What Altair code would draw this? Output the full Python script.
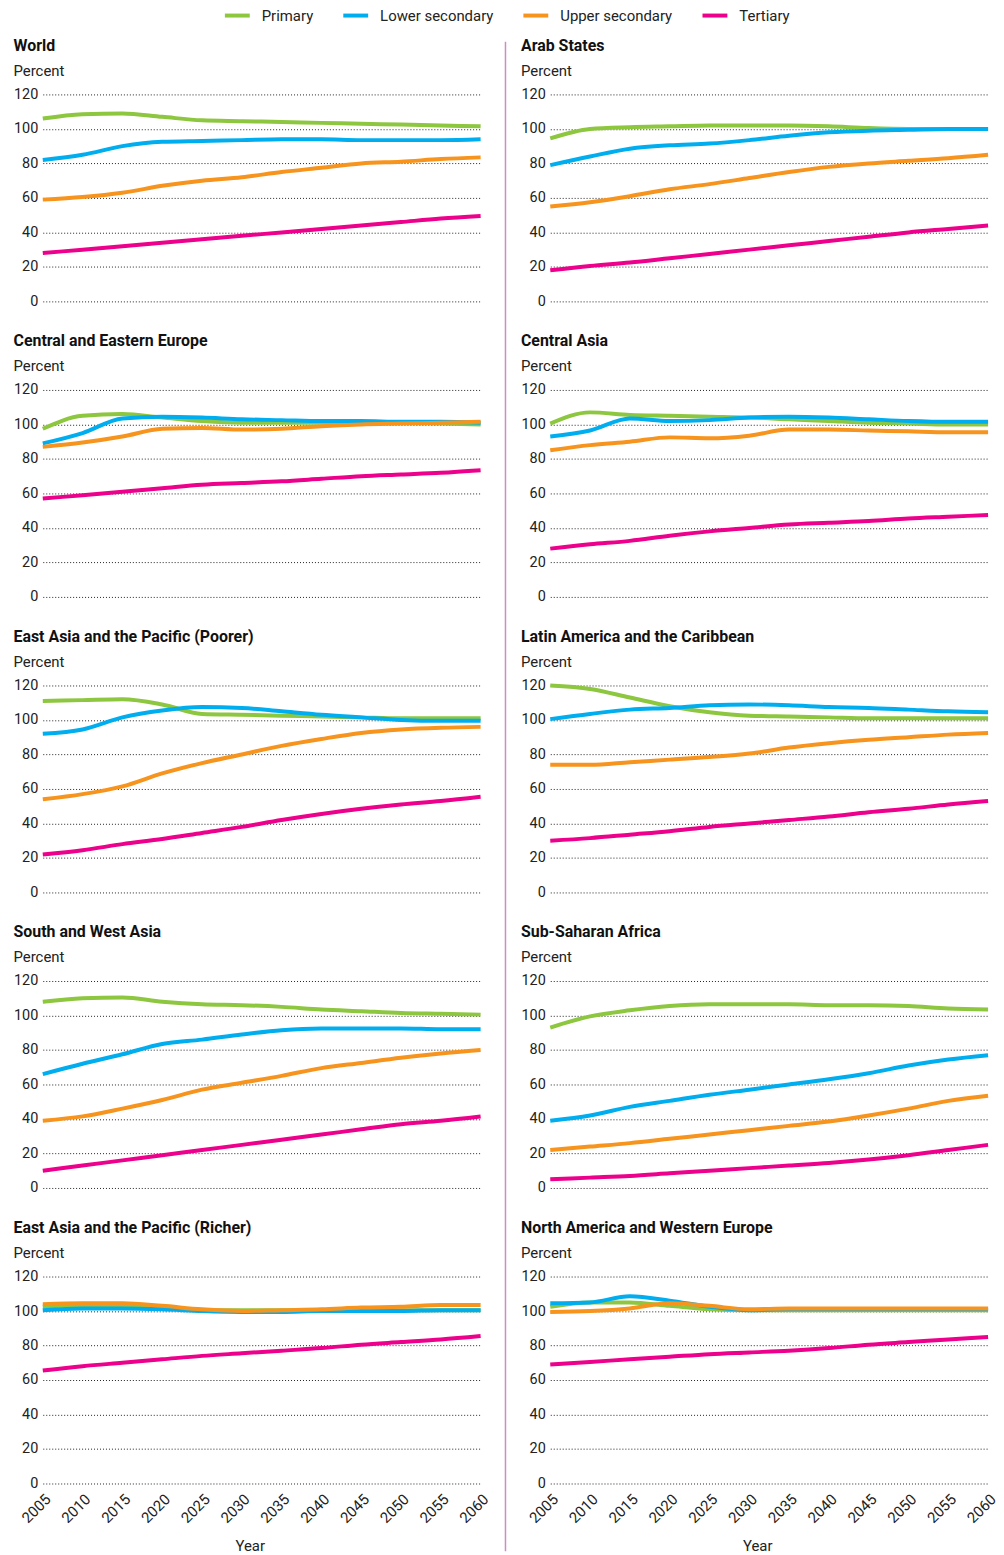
import altair as alt
import pandas as pd

YEARS = list(range(2005, 2061, 5))
LEVELS = ["Primary", "Lower secondary", "Upper secondary", "Tertiary"]
COLORS = ["#8dc63f", "#00aeef", "#f7941d", "#ec008c"]

# Gross enrolment ratio (%) projections, one list per level, values at 5-year steps
world = {
    "Primary": [106, 108.5, 109, 107, 105, 104.5, 104, 103.5, 103, 102.5, 102, 101.5],
    "Lower secondary": [82, 85, 90, 92.5, 93, 93.5, 94, 94, 93.5, 93.5, 93.5, 94],
    "Upper secondary": [59, 60.5, 63, 67, 70, 72, 75, 77.5, 80, 81, 82.5, 83.5],
    "Tertiary": [28, 30, 32, 34, 36, 38, 40, 42, 44, 46, 48, 49.5],
}
arab_states = {
    "Primary": [94.5, 100, 101, 101.5, 102, 102, 102, 101.5, 100.5, 100, 100, 100],
    "Lower secondary": [79, 84, 88.5, 90.5, 91.5, 93.5, 96, 98, 99, 99.5, 100, 100],
    "Upper secondary": [55, 57.5, 61, 65, 68, 71.5, 75, 78, 80, 81.5, 83, 85],
    "Tertiary": [18, 20.5, 22.5, 25, 27.5, 30, 32.5, 35, 37.5, 40, 42, 44],
}
central_eastern_europe = {
    "Primary": [97.5, 105, 106, 104, 102, 101, 101, 101, 101, 101, 100.5, 100],
    "Lower secondary": [89, 95, 103.5, 104.5, 104, 103, 102.5, 102, 102, 101.5, 101.5, 101],
    "Upper secondary": [87, 89.5, 93, 97.5, 98, 97, 97.5, 99, 100, 100.5, 101, 101.5],
    "Tertiary": [57, 59, 61, 63, 65, 66, 67, 68.5, 70, 71, 72, 73.5],
}
central_asia = {
    "Primary": [100.5, 107, 105.5, 105, 104.5, 104, 103, 102, 101, 100.5, 100, 100],
    "Lower secondary": [93, 96.5, 103.5, 102, 102.5, 104, 104.5, 104, 103, 102, 101.5, 101.5],
    "Upper secondary": [85, 88, 90, 92.5, 92, 93.5, 97, 97, 96.5, 96, 95.5, 95.5],
    "Tertiary": [28, 30.5, 32.5, 35.5, 38, 40, 42, 43, 44, 45.5, 46.5, 47.5],
}
east_asia_poorer = {
    "Primary": [111, 111.5, 112, 109, 103.5, 103, 102.5, 102, 101.5, 101, 101, 101],
    "Lower secondary": [92, 94.5, 101.5, 105.5, 107.5, 107, 105, 103, 101.5, 100, 99.5, 99.5],
    "Upper secondary": [54, 57, 61.5, 69, 75, 80, 85, 89, 92.5, 94.5, 95.5, 96],
    "Tertiary": [22, 24.5, 28, 31, 34.5, 38, 42, 45.5, 48.5, 51, 53, 55.5],
}
latin_america = {
    "Primary": [120, 118, 113, 108, 104.5, 102.5, 102, 101.5, 101, 101, 101, 101],
    "Lower secondary": [100.5, 103.5, 106, 107, 108.5, 109, 108.5, 107.5, 107, 106, 105, 104.5],
    "Upper secondary": [74, 74, 75.5, 77, 78.5, 80.5, 84, 86.5, 88.5, 90, 91.5, 92.5],
    "Tertiary": [30, 31.5, 33.5, 35.5, 38, 40, 42, 44, 46.5, 48.5, 51, 53],
}
south_west_asia = {
    "Primary": [108, 110, 110.5, 108, 106.5, 106, 105, 103.5, 102.5, 101.5, 101, 100.5],
    "Lower secondary": [66, 72, 77.5, 83.5, 86, 89, 91.5, 92.5, 92.5, 92.5, 92, 92],
    "Upper secondary": [39, 41.5, 46, 51, 57, 61, 65, 69.5, 72.5, 75.5, 78, 80],
    "Tertiary": [10, 13, 16, 19, 22, 25, 28, 31, 34, 37, 39, 41.5],
}
sub_saharan_africa = {
    "Primary": [93, 99.5, 103, 105.5, 106.5, 106.5, 106.5, 106, 106, 105.5, 104, 103.5],
    "Lower secondary": [39, 42, 47, 50.5, 54, 57, 60, 63, 66.5, 71, 74.5, 77],
    "Upper secondary": [22, 24, 26, 28.5, 31, 33.5, 36, 38.5, 42, 46, 50.5, 53.5],
    "Tertiary": [5, 6, 7, 8.5, 10, 11.5, 13, 14.5, 16.5, 19, 22, 25],
}
east_asia_richer = {
    "Primary": [102.5, 103.5, 103, 102, 100.5, 100.5, 100.5, 100.5, 100.5, 100.5, 100.5, 100.5],
    "Lower secondary": [100.5, 101.5, 101.5, 101, 100, 99.5, 99.5, 100, 100, 100, 100.5, 100.5],
    "Upper secondary": [104, 104.5, 104.5, 103, 101, 100, 100.5, 101, 102, 102.5, 103.5, 103.5],
    "Tertiary": [65.5, 68, 70, 72, 74, 75.5, 77, 78.5, 80.5, 82, 83.5, 85.5],
}
north_america_w_europe = {
    "Primary": [102.5, 105, 105, 103, 101, 100.5, 100.5, 100.5, 100.5, 100.5, 100.5, 100.5],
    "Lower secondary": [104.5, 105, 108.5, 106, 102.5, 100.5, 101, 101, 101, 101, 101, 101],
    "Upper secondary": [99.5, 100, 101.5, 104.5, 103, 101, 101.5, 101.5, 101.5, 101.5, 101.5, 101.5],
    "Tertiary": [69, 70.5, 72, 73.5, 75, 76, 77, 78.5, 80.5, 82, 83.5, 85],
}

LEFT = [
    ("World", world),
    ("Central and Eastern Europe", central_eastern_europe),
    ("East Asia and the Pacific (Poorer)", east_asia_poorer),
    ("South and West Asia", south_west_asia),
    ("East Asia and the Pacific (Richer)", east_asia_richer),
]
RIGHT = [
    ("Arab States", arab_states),
    ("Central Asia", central_asia),
    ("Latin America and the Caribbean", latin_america),
    ("Sub-Saharan Africa", sub_saharan_africa),
    ("North America and Western Europe", north_america_w_europe),
]

FONT = "Roboto"
PLOT_W, PLOT_H = 440, 208


def to_frame(series):
    rows = []
    for level in LEVELS:
        for year, val in zip(YEARS, series[level]):
            rows.append({"Year": year, "Value": val, "Level": level})
    return pd.DataFrame(rows)


def panel(title, series, bottom):
    if bottom:
        x_axis = alt.Axis(values=YEARS, format="d", labelAngle=-45, domain=False,
                          ticks=False, grid=False, title="Year", labelFontSize=15,
                          titleFontSize=15, titleFontWeight="normal", labelPadding=8,
                          titlePadding=13, titleX=208, labelColor="#222",
                          titleColor="#222", labelFont=FONT, titleFont=FONT)
    else:
        x_axis = None
    return alt.Chart(to_frame(series)).mark_line(
        interpolate="monotone", strokeWidth=4
    ).encode(
        x=alt.X("Year:Q", scale=alt.Scale(domain=[2005, 2060], nice=False, zero=False),
                axis=x_axis),
        y=alt.Y("Value:Q", scale=alt.Scale(domain=[0, 120], nice=False),
                axis=alt.Axis(values=[0, 20, 40, 60, 80, 100, 120], title=None,
                              domain=False, ticks=False, grid=True, gridDash=[1, 2],
                              gridColor="#222", gridWidth=1, labelFontSize=14.5,
                              labelPadding=5, labelColor="#222", labelFont=FONT)),
        color=alt.Color("Level:N", sort=LEVELS,
                        scale=alt.Scale(domain=LEVELS, range=COLORS),
                        legend=alt.Legend(title=None)),
    ).properties(
        width=PLOT_W,
        height=PLOT_H,
        title=alt.TitleParams(title, subtitle="Percent", anchor="start", font=FONT,
                              fontSize=16, fontWeight="bold", color="#111",
                              subtitleFont=FONT, subtitleFontSize=15,
                              subtitleColor="#222", subtitlePadding=10, offset=8),
    )


def column(items):
    charts = [panel(t, s, i == len(items) - 1) for i, (t, s) in enumerate(items)]
    return alt.vconcat(*charts, spacing=25).resolve_scale(color="shared")


# thin vertical divider between the two columns of panels
separator = alt.Chart(pd.DataFrame({"k": [0]})).mark_rule(
    color="#c98fc4", strokeWidth=1.5
).encode(
    x=alt.value(14), y=alt.value(-53), y2=alt.value(1464)
).properties(width=29, height=1464)

chart = alt.hconcat(
    column(LEFT), separator, column(RIGHT), spacing=0
).resolve_scale(color="shared").properties(
    padding={"left": 13, "top": -3, "right": 5, "bottom": 3}
).configure_view(
    strokeWidth=0
).configure_legend(
    orient="none", legendX=181, legendY=-94, direction="horizontal",
    symbolType="stroke", symbolSize=625, symbolStrokeWidth=4,
    labelFontSize=15, labelFont=FONT, labelColor="#222", labelOffset=10,
    columnPadding=22, labelLimit=300,
)

chart.save("out.html", embed_options={"renderer": "svg", "actions": False})
